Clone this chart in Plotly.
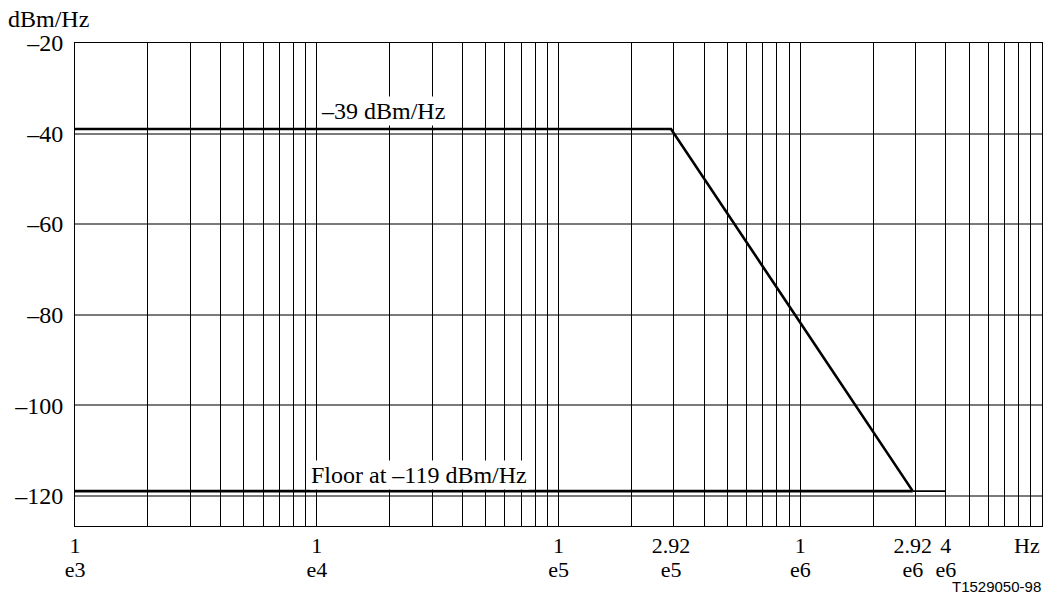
import numpy as np
import plotly.graph_objects as go

# ---------------- data ----------------
mask_freq = [1e3, 2.92e5, 2.92e6]
mask_psd = [-39, -39, -119]
floor_freq = [1e3, 2.92e6]
floor_psd = [-119, -119]
ext_freq = [2.92e6, 4e6]
ext_psd = [-119, -119]

x_tickvals = [1e3, 1e4, 1e5, 2.92e5, 1e6, 2.92e6, 4e6]
x_tick_mant = ["1", "1", "1", "2.92", "1", "2.92", "4"]
x_tick_exp = ["e3", "e4", "e5", "e5", "e6", "e6", "e6"]
y_tickvals = [-20, -40, -60, -80, -100, -120]
y_ticktext = ["\u201320", "\u201340", "\u201360", "\u201380", "\u2013100", "\u2013120"]
grid_freqs = [m * 10 ** k for k in range(3, 7) for m in range(1, 10)] + [1e7]

SERIF = "Liberation Serif, Times New Roman, serif"
FS = 24
XFS = 22
XR = [3, 7]
YR = [-126.7, -20]

fig = go.Figure()
fig.add_trace(go.Scatter(x=floor_freq, y=floor_psd, mode="lines",
                         line=dict(color="black", width=2.6), hoverinfo="skip"))
fig.add_trace(go.Scatter(x=ext_freq, y=ext_psd, mode="lines",
                         line=dict(color="black", width=1.6), hoverinfo="skip"))
fig.add_trace(go.Scatter(x=mask_freq, y=mask_psd, mode="lines",
                         line=dict(color="black", width=2.6), hoverinfo="skip"))
# invisible traces to anchor helper axes
fig.add_trace(go.Scatter(x=[1e3], y=[-20], xaxis="x2", mode="markers",
                         marker=dict(opacity=0), hoverinfo="skip"))
fig.add_trace(go.Scatter(x=[1e3], y=[-20], xaxis="x3", mode="markers",
                         marker=dict(opacity=0), hoverinfo="skip"))

fig.update_layout(
    width=1049, height=597,
    margin=dict(l=75, r=7, t=43, b=71),
    paper_bgcolor="white", plot_bgcolor="white",
    showlegend=False,
    font=dict(family=SERIF, size=FS, color="black"),
    xaxis=dict(type="log", range=XR, tickmode="array", tickvals=x_tickvals,
               ticktext=x_tick_mant, showgrid=False, zeroline=False,
               ticks="", ticklabelstandoff=0,
               showline=True, linecolor="black", linewidth=1, mirror=True,
               tickfont=dict(family=SERIF, size=XFS, color="black")),
    xaxis2=dict(type="log", range=XR, overlaying="x", side="bottom", anchor="y",
                tickmode="array", tickvals=x_tickvals, ticktext=x_tick_exp,
                showgrid=False, zeroline=False, ticks="", ticklabelstandoff=28,
                showline=False,
                tickfont=dict(family=SERIF, size=XFS, color="black")),
    xaxis3=dict(type="log", range=XR, overlaying="x", side="bottom", anchor="y",
                tickmode="array", tickvals=grid_freqs, showticklabels=False,
                showgrid=True, gridcolor="black", gridwidth=1,
                zeroline=False, ticks="", showline=False),
    yaxis=dict(range=YR, tickmode="array", tickvals=y_tickvals, ticktext=y_ticktext,
               showgrid=True, gridcolor="#7a7a7a", gridwidth=1.6, zeroline=False,
               ticks="", ticklabelstandoff=6,
               showline=True, linecolor="black", linewidth=1, mirror=True,
               tickfont=dict(family=SERIF, size=FS, color="black")),
)

annos = [
    dict(text="\u201339 dBm/Hz", x=np.log10(1.875e4), y=-35, xref="x", yref="y",
         bgcolor="white", borderpad=1),
    dict(text="Floor at \u2013119 dBm/Hz", x=np.log10(2.64e4), y=-115.5, xref="x", yref="y",
         bgcolor="white", borderpad=1),
    dict(text="dBm/Hz", x=-0.071, y=1.049, xref="paper", yref="paper",
         xanchor="left", yanchor="middle"),
    dict(text="Hz", x=1.0, y=-0.041, xref="paper", yref="paper",
         xanchor="right", yanchor="middle",
         font=dict(family=SERIF, size=XFS, color="black")),
    dict(text="T1529050-98", x=1.0, y=-0.126, xref="paper", yref="paper",
         xanchor="right", yanchor="middle", borderpad=0,
         font=dict(family="Liberation Sans, Arial, sans-serif", size=15, color="black")),
]
for a in annos:
    a.setdefault("showarrow", False)
    a.setdefault("font", dict(family=SERIF, size=FS, color="black"))
    fig.add_annotation(**a)

fig.write_html("out.html", config={"displayModeBar": False},
               post_script="document.body.style.margin='0px';")
